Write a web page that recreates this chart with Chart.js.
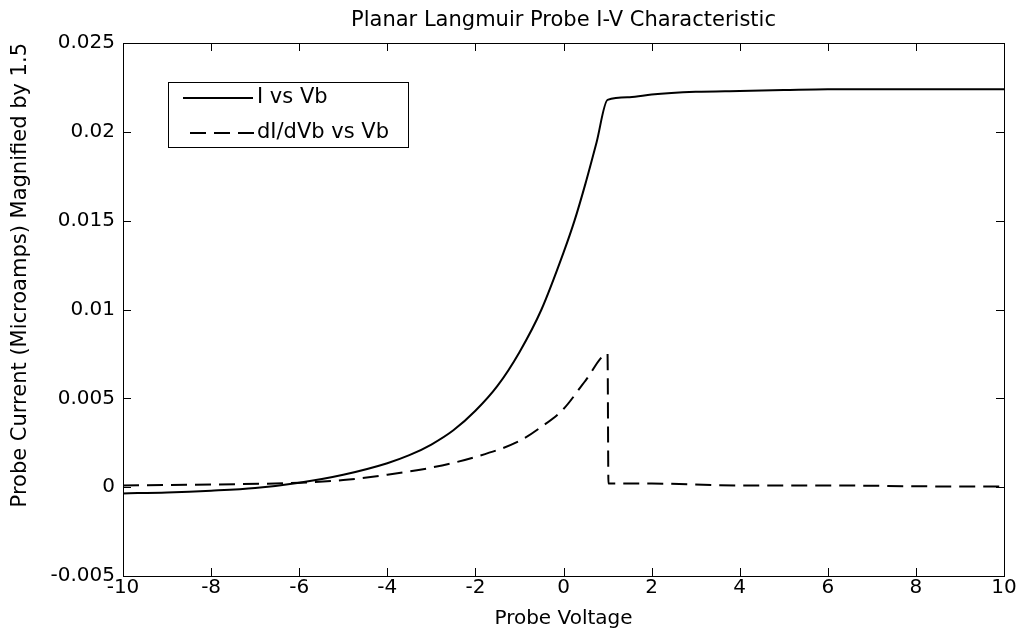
<!DOCTYPE html>
<html>
<head>
<meta charset="utf-8">
<script src="https://cdn.jsdelivr.net/npm/chart.js@4.4.0/dist/chart.umd.min.js"></script>
<style>
html, body { margin: 0; padding: 0; background: #fff; }
</style>
</head>
<body>
<canvas id="myChart" width="1016" height="631"></canvas>
<script>
// probe voltage / current
const voltsI = [-10, -9, -8, -7, -6, -5, -4, -3.5, -3, -2.5, -2, -1.5, -1, -0.5, 0, 0.25, 0.5, 0.75, 1, 1.5, 2, 3, 4, 5, 6, 7, 8, 9, 10];
const currentI = [-0.00035, -0.0003, -0.0002, -0.00005, 0.00025, 0.0007, 0.00135, 0.0018, 0.0024, 0.0032, 0.0043, 0.0057, 0.0076, 0.01, 0.0132, 0.015, 0.0171, 0.0194, 0.0218, 0.02195, 0.0221, 0.02225, 0.0223, 0.02235, 0.0224, 0.0224, 0.0224, 0.0224, 0.0224];

const voltsD = [-10, -8, -6, -5, -4, -3, -2, -1, -0.5, 0, 0.5, 1, 1.02, 2, 4, 6, 8, 10];
const derivD = [0.0001, 0.00015, 0.00025, 0.0004, 0.0007, 0.0011, 0.0017, 0.0026, 0.0034, 0.0044, 0.006, 0.0075, 0.0002, 0.0002, 0.0001, 0.0001, 0.00005, 0.00003];

const xTicks = [-10, -8, -6, -4, -2, 0, 2, 4, 6, 8, 10];
const yTicks = [-0.005, 0, 0.005, 0.01, 0.015, 0.02, 0.025];

const seriesNames = ['I vs Vb', 'dI/dVb vs Vb'];
const chartTitle = 'Planar Langmuir Probe I-V Characteristic';
const FONT = 'DejaVu Sans';

Chart.defaults.font.family = FONT;
Chart.defaults.color = '#000';

// box round the plot, inward ticks on all four sides, title over the plot and the legend
const framePlugin = {
    id: 'frame',
    afterDatasetsDraw(chart) {
        const {ctx, chartArea: a, scales} = chart;
        ctx.save();
        ctx.strokeStyle = '#000';
        ctx.lineWidth = 1;
        ctx.strokeRect(a.left + 0.5, a.top + 0.5, a.right - a.left, a.bottom - a.top);
        const len = 8;
        ctx.beginPath();
        xTicks.forEach(v => {
            const x = Math.round(scales.x.getPixelForValue(v)) + 0.5;
            ctx.moveTo(x, a.bottom); ctx.lineTo(x, a.bottom - len);
            ctx.moveTo(x, a.top); ctx.lineTo(x, a.top + len);
        });
        yTicks.forEach(v => {
            const y = Math.round(scales.y.getPixelForValue(v)) + 0.5;
            ctx.moveTo(a.left, y); ctx.lineTo(a.left + len, y);
            ctx.moveTo(a.right, y); ctx.lineTo(a.right - len, y);
        });
        ctx.stroke();

        ctx.fillStyle = '#000';
        ctx.textBaseline = 'middle';
        ctx.textAlign = 'center';
        ctx.font = '21px "' + FONT + '"';
        ctx.fillText(chartTitle, (a.left + a.right) / 2, 21);

        // legend
        const bx = 168.5, by = 82.5, bw = 240, bh = 65;
        ctx.fillStyle = '#fff';
        ctx.fillRect(bx, by, bw, bh);
        ctx.strokeRect(bx, by, bw, bh);
        ctx.lineWidth = 2;
        ctx.beginPath();
        ctx.moveTo(183, 98); ctx.lineTo(253, 98);
        ctx.stroke();
        ctx.setLineDash([16, 8]);
        ctx.beginPath();
        ctx.moveTo(190, 133); ctx.lineTo(254, 133);
        ctx.stroke();
        ctx.setLineDash([]);
        ctx.fillStyle = '#000';
        ctx.textAlign = 'left';
        ctx.fillText(seriesNames[0], 257, 98);
        ctx.fillText(seriesNames[1], 257, 133);
        ctx.restore();
    }
};

const data = {
    datasets: [
        {
            label: seriesNames[0],
            data: voltsI.map((v, i) => ({x: v, y: currentI[i]})),
            borderColor: '#000',
            borderWidth: 2,
            pointRadius: 0,
            cubicInterpolationMode: 'monotone',
            fill: false
        },
        {
            label: seriesNames[1],
            data: voltsD.map((v, i) => ({x: v, y: derivD[i]})),
            borderColor: '#000',
            borderWidth: 2,
            borderDash: [16, 8],
            pointRadius: 0,
            cubicInterpolationMode: 'monotone',
            fill: false
        }
    ]
};

const config = {
    type: 'line',
    data: data,
    options: {
        responsive: false,
        animation: false,
        layout: { padding: { left: 0, right: 12, top: 43, bottom: 0 } },
        plugins: {
            legend: { display: false },
            tooltip: { enabled: false },
            title: { display: false }
        },
        scales: {
            x: {
                type: 'linear',
                min: -10,
                max: 10,
                afterBuildTicks: s => { s.ticks = xTicks.map(v => ({value: v})); },
                ticks: { font: { size: 20 }, padding: 0, maxRotation: 0, autoSkip: false },
                grid: { display: false, drawTicks: false },
                border: { display: false },
                title: { display: true, text: 'Probe Voltage', font: { size: 20 }, padding: { top: 0, bottom: 0 } },
                afterFit: s => { s.height = 55; s.paddingLeft = 0; s.paddingRight = 0; }
            },
            y: {
                min: -0.005,
                max: 0.025,
                afterBuildTicks: s => { s.ticks = yTicks.map(v => ({value: v})); },
                ticks: {
                    font: { size: 20 },
                    padding: 8,
                    callback: v => String(+v.toFixed(3))
                },
                grid: { display: false, drawTicks: false },
                border: { display: false },
                title: { display: true, text: 'Probe Current (Microamps) Magnified by 1.5', align: 'end', font: { size: 21 }, padding: { top: 8, bottom: 0 } },
                afterFit: s => { s.width = 123; s.paddingTop = 0; s.paddingBottom = 0; }
            }
        }
    },
    plugins: [framePlugin]
};

const myChart = new Chart(document.getElementById('myChart'), config);
</script>
</body>
</html>
